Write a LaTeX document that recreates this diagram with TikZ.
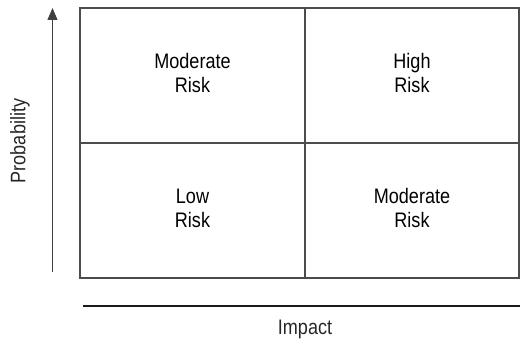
\documentclass[tikz,border=0pt]{standalone}
\usepackage{fontspec}
\setmainfont[FakeStretch=0.86]{Liberation Sans}
\usetikzlibrary{arrows.meta}

\begin{document}
\begin{tikzpicture}[
  x=1pt, y=-1pt,
  font=\fontsize{21}{24}\selectfont,
  cell/.style={rectangle, draw=black!70, line width=1.1pt, minimum height=135pt, align=center, inner sep=0pt, text depth=5pt},
  lbl/.style={inner sep=0pt, text=black!85},
]
  \useasboundingbox (0,0) rectangle (520,342);

  % risk grid
  \node[cell, minimum width=225pt] (lowleft) at (192.5,75.5) {Moderate\\Risk};
  \node[cell, minimum width=214pt] (highright) at (412,75.5) {High\\Risk};
  \node[cell, minimum width=225pt] (lowlow) at (192.5,210.5) {Low\\Risk};
  \node[cell, minimum width=214pt] (highlow) at (412,210.5) {Moderate\\Risk};

  % axes
  \coordinate (pbot) at (52.5,272);
  \coordinate (ptop) at (52.5,8);
  \draw[-{Triangle[length=12pt, width=10pt]}, line width=1pt, black!75] (pbot) -- (ptop);
  \coordinate (ileft) at (83,306);
  \coordinate (iright) at (520,306);
  \draw[line width=1.2pt, black!90] (ileft) -- (iright);

  \node[lbl, rotate=90] (prob) at (20,141) {Probability};
  \node[lbl] (imp) at (305,329) {Impact};
\end{tikzpicture}
\end{document}
